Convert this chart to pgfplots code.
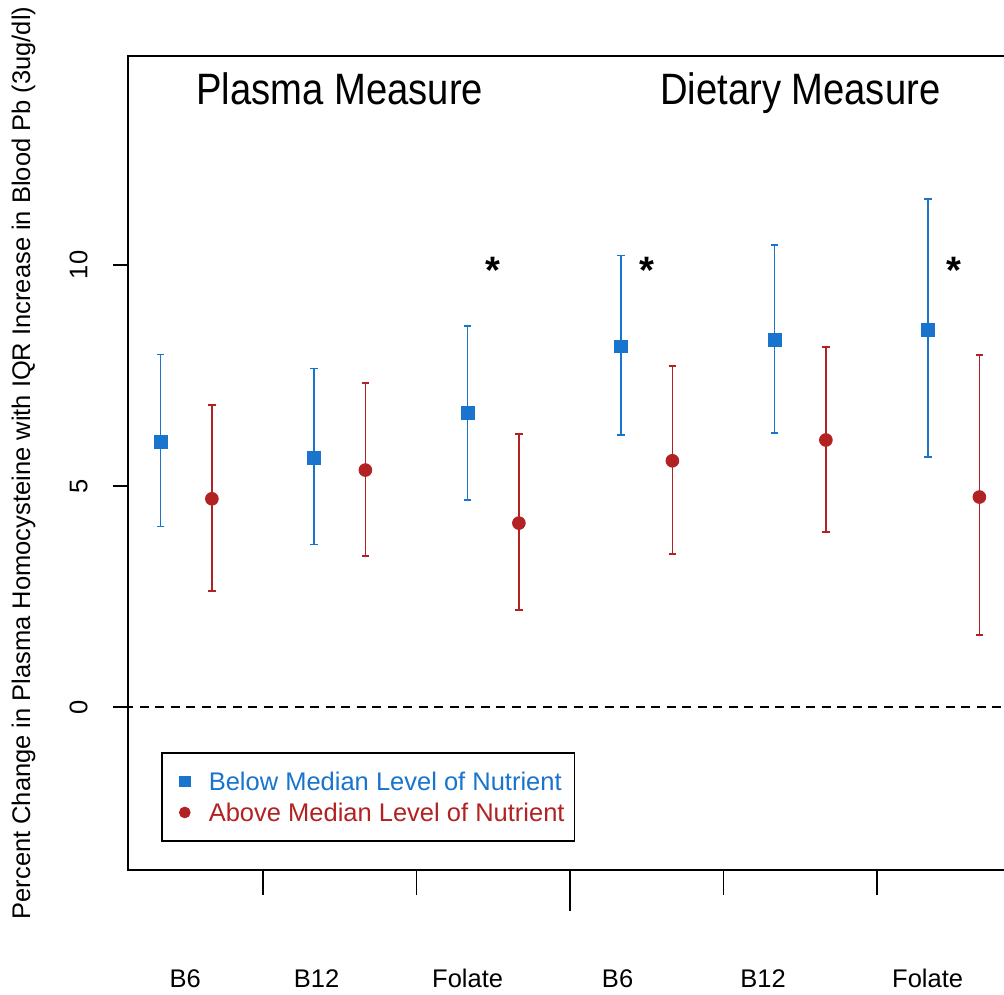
\documentclass[border=0pt]{standalone}
\usepackage{pgfplots}
\usepackage{pgfplotstable}
\pgfplotsset{compat=1.18}
\usepackage{fontspec}
\setmainfont{Liberation Sans}

\definecolor{belowblue}{RGB}{24,116,205}
\definecolor{abovered}{RGB}{178,34,34}

% estimate (y) with lower and upper limits (lo, hi); x = category -/+ 1/6
\pgfplotstableread{
x      y     hi     lo
0.833  6.00  7.98   4.08
1.833  5.64  7.66   3.68
2.833  6.65  8.62   4.68
3.833  8.16  10.22  6.15
4.833  8.30  10.45  6.20
5.833  8.53  11.49  5.66
}\belowtab

\pgfplotstableread{
x      y     hi     lo
1.167  4.71  6.83   2.62
2.167  5.36  7.33   3.42
3.167  4.16  6.18   2.19
4.167  5.57  7.71   3.46
5.167  6.04  8.14   3.96
6.167  4.75  7.96   1.63
}\abovetab

\newcommand{\smallfont}{\fontsize{12.75}{15}\selectfont}
\newcommand{\bigfont}{\fontsize{19.1}{23}\selectfont}

\begin{document}
\begin{tikzpicture}
\begin{axis}[
  x=76.75pt, y=22.1pt,
  xmin=0.6205, xmax=6.6, ymin=-3.688, ymax=14.729,
  axis line style={line width=0.8pt},
  tick align=outside,
  xtick pos=bottom, ytick pos=left,
  xtick={0.994,1.849,2.833,3.81,4.758,5.83},
  xticklabels={B6,B12,Folate,B6,B12,Folate},
  major x tick style={draw=none},
  minor xtick={1.5,2.5,4.5,5.5},
  minor tick length=12.5pt,
  minor x tick style={line width=0.8pt, black},
  extra x ticks={3.5},
  extra x tick labels={},
  extra x tick style={major tick length=20.5pt, major x tick style={draw=black, line width=0.8pt}},
  ytick={0,5,10},
  major tick length=7.5pt,
  major y tick style={line width=0.8pt, black},
  /pgf/number format/assume math mode=true,
  xticklabel style={anchor=base, font=\smallfont},
  xticklabel shift=51.5pt,
  yticklabel style={rotate=90, anchor=base, font=\smallfont},
  yticklabel shift=12.75pt,
  ylabel={Percent Change in Plasma Homocysteine with IQR Increase in Blood Pb (3ug/dl)},
  ylabel style={at={(axis description cs:-0.10677,0.5)}, anchor=base, font=\smallfont},
  legend style={at={(axis cs:0.8355,-1.018)}, anchor=north west, draw=black,
    line width=0.8pt, inner xsep=0pt, inner ysep=6.6pt, row sep=0pt,
    column sep=0pt, nodes={inner sep=0pt, text depth=0pt, font=\smallfont}},
  legend cell align=left,
  legend image code/.code={%
    \pgfpathrectangle{\pgfpoint{-11.5pt}{-7.75pt}}{\pgfpoint{23.5pt}{15.5pt}}%
    \pgfusepath{use as bounding box}%
    \draw[#1] plot coordinates {(0pt,0pt)};},
  clip=false,
]

% reference line at zero
\addplot[black, line width=0.8pt, dash pattern=on 4.6pt off 3.15pt, dash phase=2pt, forget plot]
  coordinates {(0.6205,0) (6.6,0)};

% below-median group
\addplot[only marks, mark=square*, color=belowblue, mark size=3.2pt,
  mark options={line width=0.4pt}, forget plot,
  error bars/.cd, y dir=both, y explicit,
  error bar style={line width=0.75pt, color=belowblue},
  error mark options={rotate=90, mark size=1.85pt, line width=0.75pt, color=belowblue}]
  table[x=x, y=y, y error plus expr=\thisrow{hi}-\thisrow{y},
        y error minus expr=\thisrow{y}-\thisrow{lo}] {\belowtab};

% above-median group
\addplot[only marks, mark=*, color=abovered, mark size=3.2pt,
  mark options={line width=0.4pt}, forget plot,
  error bars/.cd, y dir=both, y explicit,
  error bar style={line width=0.75pt, color=abovered},
  error mark options={rotate=90, mark size=1.85pt, line width=0.75pt, color=abovered}]
  table[x=x, y=y, y error plus expr=\thisrow{hi}-\thisrow{y},
        y error minus expr=\thisrow{y}-\thisrow{lo}] {\abovetab};

\addlegendimage{mark=square*, color=belowblue, mark size=2.7pt, mark options={line width=0.4pt}}
\addlegendentry{\textcolor{belowblue}{Below Median Level of Nutrient}}
\addlegendimage{mark=*, color=abovered, mark size=2.7pt, mark options={line width=0.4pt}}
\addlegendentry{\textcolor{abovered}{Above Median Level of Nutrient}\hspace*{5pt}}

\node[anchor=base, font=\bigfont] at (axis cs:2,13.62) {\scalebox{1}[1.15]{Plasma Measure}};
\node[anchor=base, font=\bigfont] at (axis cs:5,13.62) {\scalebox{1}[1.15]{Dietary Measure}};

\node[anchor=base, font=\bfseries\bigfont] at (axis cs:3,9.59) {*};
\node[anchor=base, font=\bfseries\bigfont] at (axis cs:4,9.59) {*};
\node[anchor=base, font=\bfseries\bigfont] at (axis cs:6,9.59) {*};

\coordinate (bbsw) at (axis cs:-0.2134,-6.516);
\coordinate (bbne) at (axis cs:6.3274,15.995);
\end{axis}
\pgfresetboundingbox
\useasboundingbox (bbsw) rectangle (bbne);
\end{tikzpicture}
\end{document}
